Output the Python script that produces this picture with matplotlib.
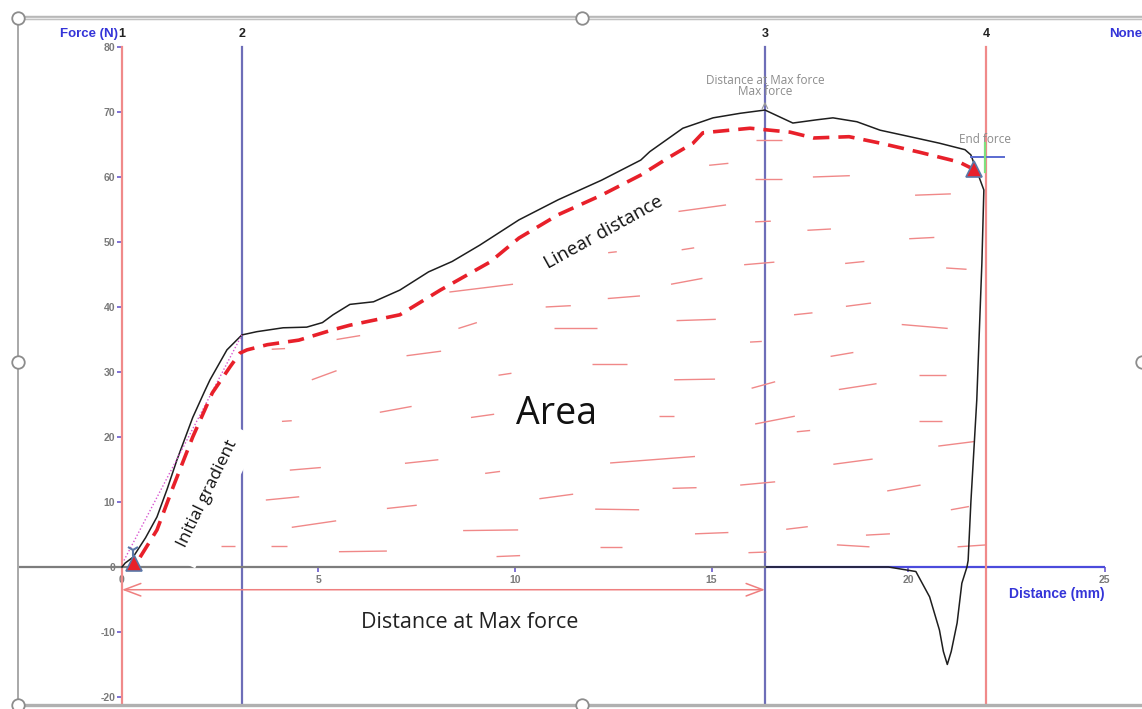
import matplotlib
matplotlib.use("Agg")
import matplotlib.pyplot as plt
from matplotlib.collections import LineCollection

# ---------------- data ----------------
force_x = [0.0, 0.08, 0.28, 0.6, 0.89, 1.15, 1.4, 1.8, 2.1, 2.24, 2.67, 3.05, 3.43, 4.1, 4.7, 5.1,
           5.37, 5.8, 6.4, 7.07, 7.8, 8.4, 9.1, 10.1, 11.1, 12.2, 13.2, 13.43, 14.27, 15.04, 15.73,
           16.36, 17.07, 17.68, 18.09, 18.7, 19.29, 20.05, 20.8, 21.45, 21.6, 21.93, 21.88, 21.75,
           21.6, 21.53, 21.5, 21.37, 21.25, 21.1, 21.0, 20.9, 20.8, 20.55, 20.2, 19.5, 16.4]
force_y = [0.0, 0.6, 1.5, 4.5, 7.7, 12.0, 16.5, 23.0, 27.0, 28.8, 33.4, 35.7, 36.2, 36.8, 36.9, 37.6,
           38.8, 40.4, 40.8, 42.6, 45.4, 47.0, 49.5, 53.4, 56.5, 59.5, 62.6, 63.9, 67.5, 69.1, 69.8,
           70.3, 68.3, 68.8, 69.1, 68.5, 67.2, 66.2, 65.2, 64.2, 63.4, 58.0, 46.8, 25.7,
           10.0, 1.0, 0.0, -2.5, -8.6, -13.0, -15.0, -13.0, -9.7, -4.6, -0.7, 0.0, 0.0]

linear_x = [0.46, 0.89, 1.3, 1.8, 2.3, 2.75, 3.0, 3.18, 3.7, 4.5, 5.37, 5.8, 7.07, 8.1, 9.36, 10.1,
            11.1, 12.2, 13.2, 13.94, 14.53, 14.78, 15.98, 17.0, 17.6, 18.5, 19.3, 20.3, 21.3, 21.7]
linear_y = [1.5, 5.7, 12.3, 20.0, 26.8, 30.8, 32.9, 33.4, 34.2, 34.9, 36.5, 37.2, 38.8, 42.6, 46.9, 50.6,
            54.2, 57.2, 60.3, 63.1, 65.2, 66.8, 67.5, 66.9, 66.0, 66.2, 65.2, 63.8, 62.3, 61.1]

gradient_x = [0.05, 3.05]
gradient_y = [1.0, 35.7]

marker_lines = [0.0, 3.05, 16.36, 21.98]
marker_labels = ["1", "2", "3", "4"]
marker_colors = ["#f08a8a", "#6e6eb8", "#6e6eb8", "#f08a8a"]

max_force_x, max_force_y = 16.36, 70.3
end_force_x, end_force_y = 21.96, 63.1

x_ticks = [0, 5, 10, 15, 20, 25]
y_ticks = [-20, -10, 0, 10, 20, 30, 40, 50, 60, 70, 80]

hatch_x0 = [2.53, 3.78, 4.32, 5.52, 3.66, 4.27, 4.07, 4.83, 3.81, 5.46, 8.33, 8.56, 7.24, 9.58, 6.56,
            8.88, 7.20, 9.24, 6.74, 8.68, 9.53, 14.94, 16.11, 14.16, 16.11, 12.37, 14.24, 15.83, 13.97,
            12.36, 10.78, 14.11, 11.00, 15.98, 11.95, 14.05, 16.02, 13.67, 16.11, 12.42, 15.73, 14.01,
            10.62, 12.04, 14.58, 12.16, 15.94, 16.13, 17.58, 20.18, 17.44, 20.03, 18.40, 20.97, 18.42,
            17.10, 19.84, 18.03, 18.24, 20.29, 17.17, 20.28, 20.77, 18.10, 19.47, 21.09, 16.90, 18.93,
            18.19, 21.26]
hatch_y0 = [3.3, 3.2, 6.1, 2.35, 10.3, 14.9, 22.4, 28.8, 33.5, 35.0, 42.3, 36.7, 32.5, 29.5, 23.8,
            23.0, 15.95, 14.4, 9.0, 5.6, 1.6, 61.8, 59.7, 54.7, 53.1, 48.35, 48.8, 46.5, 43.5,
            41.3, 40.0, 37.9, 36.7, 34.6, 31.3, 28.8, 27.5, 23.2, 22.0, 16.0, 12.6, 12.1,
            10.5, 8.9, 5.1, 3.1, 2.2, 65.7, 60.0, 57.2, 51.8, 50.5, 46.7, 46.0, 40.1,
            38.8, 37.3, 32.4, 27.3, 29.5, 20.8, 22.4, 18.6, 15.8, 11.7, 8.8, 5.8, 4.9,
            3.4, 3.1]
hatch_x1 = [2.87, 4.20, 5.45, 6.74, 4.51, 5.06, 4.32, 5.46, 4.15, 6.06, 9.95, 9.03, 8.12, 9.91, 7.37,
            9.47, 8.05, 9.62, 7.50, 10.08, 10.13, 15.43, 16.79, 15.37, 16.51, 12.59, 14.56, 16.60, 14.77,
            13.18, 11.42, 15.11, 12.08, 16.28, 12.84, 15.09, 16.62, 14.05, 17.12, 14.58, 16.62, 14.62,
            11.48, 13.16, 15.43, 12.72, 16.40, 16.79, 18.52, 21.09, 18.04, 20.67, 18.89, 21.49, 19.06,
            17.57, 21.01, 18.61, 19.20, 20.96, 17.51, 20.86, 21.69, 19.10, 20.32, 21.55, 17.45, 19.54,
            19.02, 22.00]
hatch_y1 = [3.3, 3.2, 7.1, 2.45, 10.8, 15.3, 22.5, 30.2, 33.6, 35.6, 43.5, 37.6, 33.2, 29.8, 24.7,
            23.5, 16.5, 14.7, 9.5, 5.7, 1.75, 62.1, 59.7, 55.7, 53.2, 48.5, 49.1, 46.9, 44.4,
            41.7, 40.2, 38.1, 36.7, 34.7, 31.3, 28.9, 28.5, 23.2, 23.2, 17.0, 13.1, 12.2,
            11.2, 8.8, 5.3, 3.1, 2.3, 65.7, 60.2, 57.4, 52.0, 50.7, 47.0, 45.8, 40.6,
            39.1, 36.7, 33.0, 28.2, 29.5, 21.0, 22.4, 19.3, 16.6, 12.6, 9.3, 6.2, 5.1,
            3.1, 3.4]

# ---------------- figure ----------------
W, H = 1142, 709
fig = plt.figure(figsize=(W / 100, H / 100), dpi=100)
fig.patch.set_facecolor("white")
ax = fig.add_axes([0, 0, 1, 1])
ax.set_facecolor("white")
ax.set_xlim(-3.104, 25.954)
ax.set_ylim(-21.85, 87.23)

AX_FONT = "Liberation Sans"
HAND_FONT = "Open Sans"

# spines / ticks
for s in ["top", "right", "left"]:
    ax.spines[s].set_visible(False)
ax.spines["left"].set_position(("data", 0))
ax.spines["bottom"].set_position(("data", 0))
ax.spines["bottom"].set_bounds(-2.6, 16.36)
ax.spines["bottom"].set_color("#7d7d7d")
ax.spines["bottom"].set_linewidth(1.6)
ax.set_xticks(x_ticks)
ax.set_yticks(y_ticks)
ax.set_xticklabels([str(v) for v in x_ticks])
ax.set_yticklabels([str(v) for v in y_ticks])
ax.tick_params(axis="both", direction="out", length=3.5, width=1.2, color="#6a5acd",
               labelcolor="#7a7a7a", labelsize=7.5)
ax.tick_params(axis="x", pad=2)
ax.tick_params(axis="y", pad=1.5)
for lab in ax.get_xticklabels() + ax.get_yticklabels():
    lab.set_fontfamily(AX_FONT)
    lab.set_fontweight("bold")

# blue part of x axis
ax.plot([16.36, 25.0], [0, 0], color="#4b4bdc", lw=1.6, zorder=2, solid_capstyle="butt")

# marker lines
for xv, lab, col in zip(marker_lines, marker_labels, marker_colors):
    ax.plot([xv, xv], [80, -21.2], color=col, lw=1.6, zorder=2)
    ax.text(xv, 82.0, lab, ha="center", va="center", fontsize=9, fontweight="bold",
            family=AX_FONT, color="#222222")

# hatch strokes (area)
segs = [[(a, b), (c, d)] for a, b, c, d in zip(hatch_x0, hatch_y0, hatch_x1, hatch_y1)]
ax.add_collection(LineCollection(segs, colors="#f08888", linewidths=1.0, zorder=3))

# curves
ax.plot(force_x, force_y, color="#1e1e1e", lw=1.1, zorder=5)
ax.plot(linear_x, linear_y, color="#e8202a", lw=2.6, dashes=(4.5, 2.5), zorder=6)
ax.plot(gradient_x, gradient_y, color="#d855d0", lw=1.0, ls=(0, (1, 1.5)), zorder=5)

# start / end triangles
ax.plot([0.3], [0.6], marker="^", ms=11, color="#e8202a", mec="#5a78a8", mew=1.2, zorder=7)
ax.plot([0.28], [2.6], marker="1", ms=9, color="#5a78a8", mew=1.5, zorder=7)
ax.plot([21.68], [61.2], marker="^", ms=12, color="#e8202a", mec="#5a78a8", mew=1.2, zorder=7)

# end force crosshair
ax.plot([21.6, 22.45], [end_force_y, end_force_y], color="#5a6ad0", lw=1.4, zorder=8)
ax.plot([end_force_x, end_force_x], [60.8, 65.3], color="#7ee07e", lw=1.6, zorder=8)
ax.text(end_force_x, 65.8, "End force", ha="center", va="center", fontsize=8.5,
        family=HAND_FONT, color="#8c8c8c")

# max force annotation
ax.annotate("", xy=(max_force_x, 72.0), xytext=(max_force_x, 70.6),
            arrowprops=dict(arrowstyle="->", color="#9a9a9a", lw=0.8))
ax.text(max_force_x, 73.1, "Max force", ha="center", va="center", fontsize=8.5,
        family=HAND_FONT, color="#8c8c8c")
ax.text(max_force_x, 74.9, "Distance at Max force", ha="center", va="center", fontsize=8.5,
        family=HAND_FONT, color="#8c8c8c")

# axis titles
ax.text(-0.1, 82.0, "Force (N)", ha="right", va="center", fontsize=9.5, fontweight="bold",
        family=AX_FONT, color="#3434d8")
ax.text(25.95, 82.0, "None", ha="right", va="center", fontsize=9.5, fontweight="bold",
        family=AX_FONT, color="#3434d8")
ax.text(25.0, -4.2, "Distance (mm)", ha="right", va="center", fontsize=10, fontweight="bold",
        family=AX_FONT, color="#3434d8")

# distance at max force double arrow
ax.annotate("", xy=(0.0, -3.5), xytext=(max_force_x, -3.5),
            arrowprops=dict(arrowstyle="<->,head_length=1.2,head_width=0.45",
                            color="#ef7f7f", lw=1.1, shrinkA=0, shrinkB=0))
ax.text(8.85, -8.5, "Distance at Max force", ha="center", va="center", fontsize=15.5,
        family=HAND_FONT, color="#222222")

# hand annotations
ax.text(11.05, 23.5, "Area", ha="center", va="center", fontsize=27, family=HAND_FONT,
        color="#111111", zorder=9)
ax.text(2.17, 11.3, "Initial gradient", ha="center", va="center", fontsize=12.5,
        family=HAND_FONT, color="#111111", rotation=64, rotation_mode="anchor", zorder=9,
        bbox=dict(facecolor="white", edgecolor="none", pad=10))
ax.text(12.26, 51.4, "Linear distance", ha="center", va="center", fontsize=13.5,
        family=HAND_FONT, color="#111111", rotation=29, rotation_mode="anchor", zorder=9)

# window frame (pixel-space overlay)
ov = fig.add_axes([0, 0, 1, 1], zorder=20)
ov.set_xlim(0, W)
ov.set_ylim(H, 0)
ov.axis("off")
ov.patch.set_alpha(0)
ov.plot([18, W], [18, 18], color="#b8b8b8", lw=3.2, solid_capstyle="butt")
ov.plot([18, W], [18, 18], color="#e6e6e6", lw=1.0, solid_capstyle="butt")
ov.plot([18, 18], [18, 705], color="#a8a8a8", lw=1.4)
ov.plot([18, W], [705, 705], color="#b0b0b0", lw=2.4)
for cx, cy in [(18, 18), (582, 18), (18, 362), (1142, 362), (18, 705), (582, 705)]:
    ov.plot([cx], [cy], marker="o", ms=9, mfc="white", mec="#8c8c8c", mew=1.3)

fig.savefig("out.png", dpi=100, facecolor="white")
